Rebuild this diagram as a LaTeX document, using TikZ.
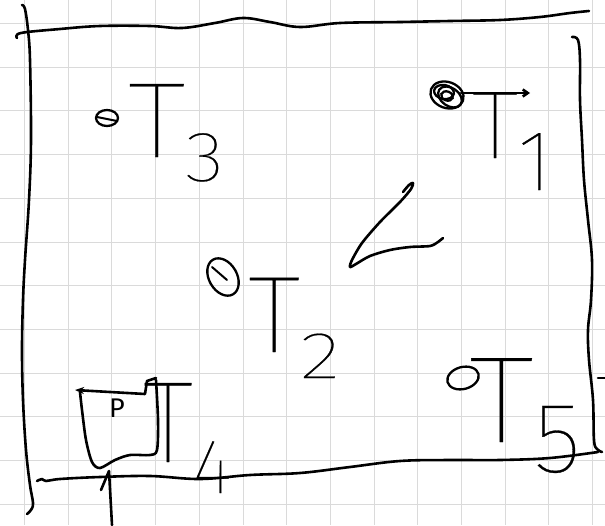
\documentclass[tikz,border=0pt]{standalone}
\usepackage{fontspec}
\newfontfamily\hand{Fira Sans Thin}[FakeBold=0.3]
\newfontfamily\handp{Fira Sans}
\usetikzlibrary{shapes.geometric,arrows.meta}
\definecolor{gridc}{RGB}{218,218,218}
% #1 T size, #2 T x-scale, #3 digit size, #4 digit x-scale, #5 kern, #6 drop, #7 digit
\newcommand\Tlab[7]{\scalebox{#2}[1]{\fontsize{#1}{#1}\selectfont T}\kern#5pt\raisebox{-#6pt}{\scalebox{#4}[1]{\fontsize{#3}{#3}\selectfont #7}}}
\tikzset{
  stroke/.style={line width=2.6pt, line cap=round, line join=round},
  gridline/.style={line width=1pt, draw=gridc},
  lab/.style={inner sep=0pt, anchor=base west, font=\hand},
  dotst/.style={draw, ellipse, line width=2.3pt, inner sep=0pt},
}
\begin{document}
\begin{tikzpicture}[x=1pt,y=-1pt]
\useasboundingbox[fill=white] (0,0) rectangle (605,525);
% grid
\foreach \i in {0,...,13} {\pgfmathsetmacro\gx{24.5+43.7*\i}\draw[gridline] (\gx,0) -- (\gx,525);}
\foreach \i in {0,...,11} {\pgfmathsetmacro\gy{23.5+43.7*\i}\draw[gridline] (0,\gy) -- (605,\gy);}
% borders
\draw[stroke] plot[smooth,tension=0.6] coordinates {(17,38) (21,33) (60,29) (100,26) (150,26) (182,28) (215,23) (243,18) (270,22) (300,27) (340,23) (400,22) (450,21) (500,20) (540,17) (570,13) (589,11)};
\draw[stroke] plot[smooth,tension=0.6] coordinates {(22,5) (25,9) (28,30) (30,60) (31,140) (29,200) (25,260) (23,300) (22,350) (23,400) (26,450) (30,485) (33,503) (31,510) (27,514)};
\draw[stroke] plot[smooth,tension=0.6] coordinates {(572,37) (578,40) (580,60) (580,100) (582,140) (584,180) (588,220) (592,260) (591,300) (588,330) (589,360) (593,400) (594,440) (597,449) (602,452)};
\draw[stroke] plot[smooth,tension=0.6] coordinates {(37,481) (42,479) (46,481) (60,479) (100,477) (150,476) (200,479) (250,475) (300,473) (350,467) (400,461) (450,460) (500,460) (550,458) (598,452)};
\draw[stroke] (598,378) -- (605,378);
% bottom arrow
\coordinate (va) at (109,471);
\coordinate (vb) at (112,525);
\draw[stroke] (vb) -- (va) -- (101,490);
% dots
\node[dotst, minimum width=22pt, minimum height=16pt] (d3) at (107,118) {};
\draw[stroke, line width=2pt] (97,117) -- (117,121);
\node[dotst, minimum width=34pt, minimum height=26pt, rotate=-20] (d1) at (447,95) {};
\node[dotst, minimum width=26pt, minimum height=18pt, rotate=-35] (d1b) at (450,97) {};
\node[dotst, minimum width=20pt, minimum height=14pt, rotate=-10] (d1c) at (444,92) {};
\node[dotst, minimum width=12pt, minimum height=9pt, rotate=-20] (d1d) at (447,96) {};
\node[dotst, minimum width=28pt, minimum height=40pt, rotate=30] (d2) at (223,277) {};
\draw[stroke, line width=2pt] (212,267) -- (227,280);
\node[dotst, minimum width=32pt, minimum height=22pt, rotate=15] (d5) at (463,378) {};
% arrow from T1 dot
\coordinate (a1) at (530,93);
\draw[stroke, -{Straight Barb[length=5pt,width=7pt]}] (d1.center) ++(14,-2) -- (a1);
% central mark
\draw[stroke] plot[smooth,tension=0.5] coordinates {(403,192) (409,185) (413,183) (411,189) (400,202) (380,222) (362,243) (352,260) (350,267) (356,264) (370,256) (390,250) (410,247) (430,246) (438,242) (443,238)};
% bucket
\draw[stroke, {Stealth[length=9pt,width=7pt]}-] (75,390) -- (145,394) -- (147,381) -- (156,378);
\draw[stroke] plot[smooth,tension=0.5] coordinates {(156,380) (158,420) (157,450) (150,455) (130,455) (115,460) (100,468) (92,462) (86,440) (82,410) (80,392)};
\node[inner sep=0pt, font=\handp\fontsize{27}{27}\selectfont] (p) at (117,408) {P};
% labels
\node[lab] (t3) at (128,157) {\Tlab{107}{1.12}{71}{1.15}{0}{24}{3}};
\node[lab] (t1) at (472,158) {\Tlab{96}{1}{86}{1}{0}{32}{1}};
\node[lab] (t2) at (248,352) {\Tlab{109}{1}{66}{1.3}{0}{26}{2}};
\node[lab] (t5) at (469,442) {\Tlab{123}{1.1}{100}{1}{0}{30}{5}};
\node[lab] (t4) at (143,462) {\Tlab{116}{0.9}{77}{1}{0}{31}{4}};
\end{tikzpicture}
\end{document}
